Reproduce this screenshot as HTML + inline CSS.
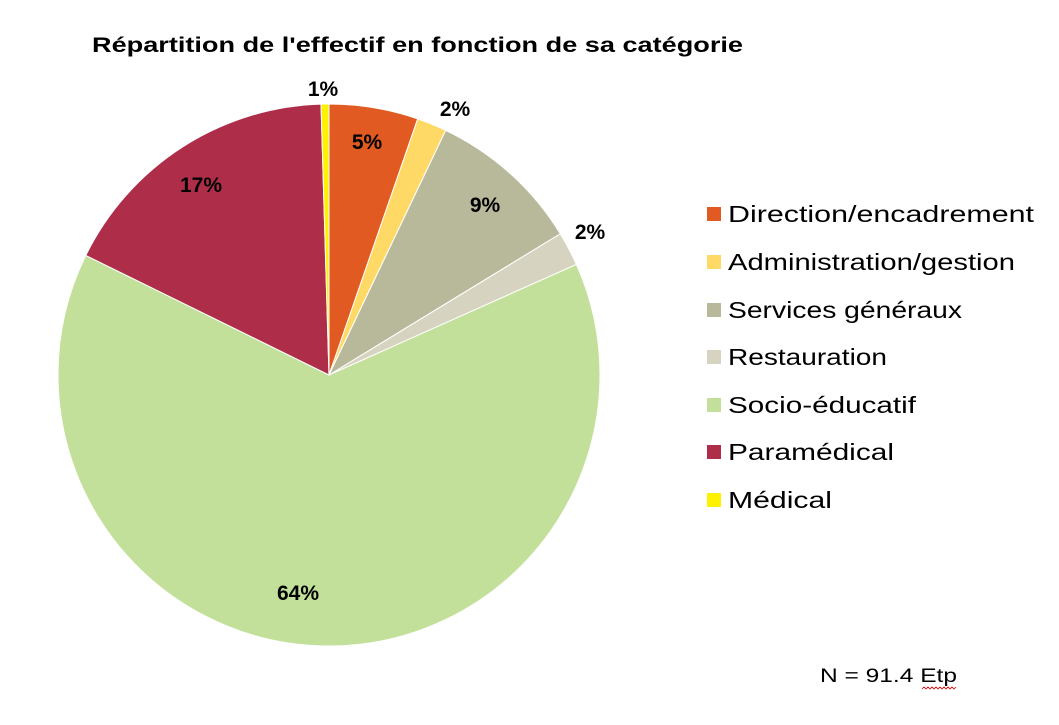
<!DOCTYPE html>
<html><head><meta charset="utf-8"><style>
body{margin:0;background:#fff;}
svg{display:block;font-family:"Liberation Sans","DejaVu Sans",sans-serif;}
</style></head><body>
<svg width="1059" height="725" viewBox="0 0 1059 725">
<rect width="1059" height="725" fill="#fff"/>
<text x="92" y="52" font-size="21" font-weight="bold" fill="#000" textLength="651" lengthAdjust="spacingAndGlyphs">Répartition de l'effectif en fonction de sa catégorie</text>
<g stroke="#fff" stroke-width="1">
<path d="M329,375 L329,104 A271,271 0 0 1 417.7,118.9 Z" fill="#E05A22"/>
<path d="M329,375 L417.7,118.9 A271,271 0 0 1 445.7,130.4 Z" fill="#FFD966"/>
<path d="M329,375 L445.7,130.4 A271,271 0 0 1 560.3,233.8 Z" fill="#B8B89A"/>
<path d="M329,375 L560.3,233.8 A271,271 0 0 1 576.4,264.4 Z" fill="#D6D4C0"/>
<path d="M329,375 L576.4,264.4 A271,271 0 1 1 85.8,255.4 Z" fill="#C2E09A"/>
<path d="M329,375 L85.8,255.4 A271,271 0 0 1 321.0,104.1 Z" fill="#AE2E4A"/>
<path d="M329,375 L321.0,104.1 A271,271 0 0 1 329,104 Z" fill="#FFF200"/>
</g>
<g font-size="21" font-weight="bold" fill="#000" text-anchor="middle">
<text x="323" y="96">1%</text>
<text x="367" y="149">5%</text>
<text x="455" y="116">2%</text>
<text x="485" y="212">9%</text>
<text x="590" y="239">2%</text>
<text x="201" y="192">17%</text>
<text x="298" y="600">64%</text>
</g>
<g font-size="23" fill="#000" lengthAdjust="spacingAndGlyphs">
<rect x="707" y="207" width="14" height="14" fill="#E05A22"/><text x="728" y="222" textLength="306" lengthAdjust="spacingAndGlyphs">Direction/encadrement</text>
<rect x="707" y="255" width="14" height="14" fill="#FFD966"/><text x="728" y="270" textLength="287" lengthAdjust="spacingAndGlyphs">Administration/gestion</text>
<rect x="707" y="303" width="14" height="14" fill="#B8B89A"/><text x="728" y="318" textLength="234" lengthAdjust="spacingAndGlyphs">Services généraux</text>
<rect x="707" y="350" width="14" height="14" fill="#D6D4C0"/><text x="728" y="365" textLength="159" lengthAdjust="spacingAndGlyphs">Restauration</text>
<rect x="707" y="398" width="14" height="14" fill="#C2E09A"/><text x="728" y="413" textLength="188" lengthAdjust="spacingAndGlyphs">Socio-éducatif</text>
<rect x="707" y="445" width="14" height="14" fill="#AE2E4A"/><text x="728" y="460" textLength="166" lengthAdjust="spacingAndGlyphs">Paramédical</text>
<rect x="707" y="493" width="14" height="14" fill="#FFF200"/><text x="728" y="508" textLength="104" lengthAdjust="spacingAndGlyphs">Médical</text>
</g>
<text x="820" y="682" font-size="19" fill="#000" textLength="137" lengthAdjust="spacingAndGlyphs">N = 91.4 Etp</text>
<path d="M922,689 l2,-2 l2,2 l2,-2 l2,2 l2,-2 l2,2 l2,-2 l2,2 l2,-2 l2,2 l2,-2 l2,2 l2,-2 l2,2 l2,-2 l2,2 l2,-2" stroke="#d00" stroke-width="0.8" fill="none"/>
</svg>
</body></html>
